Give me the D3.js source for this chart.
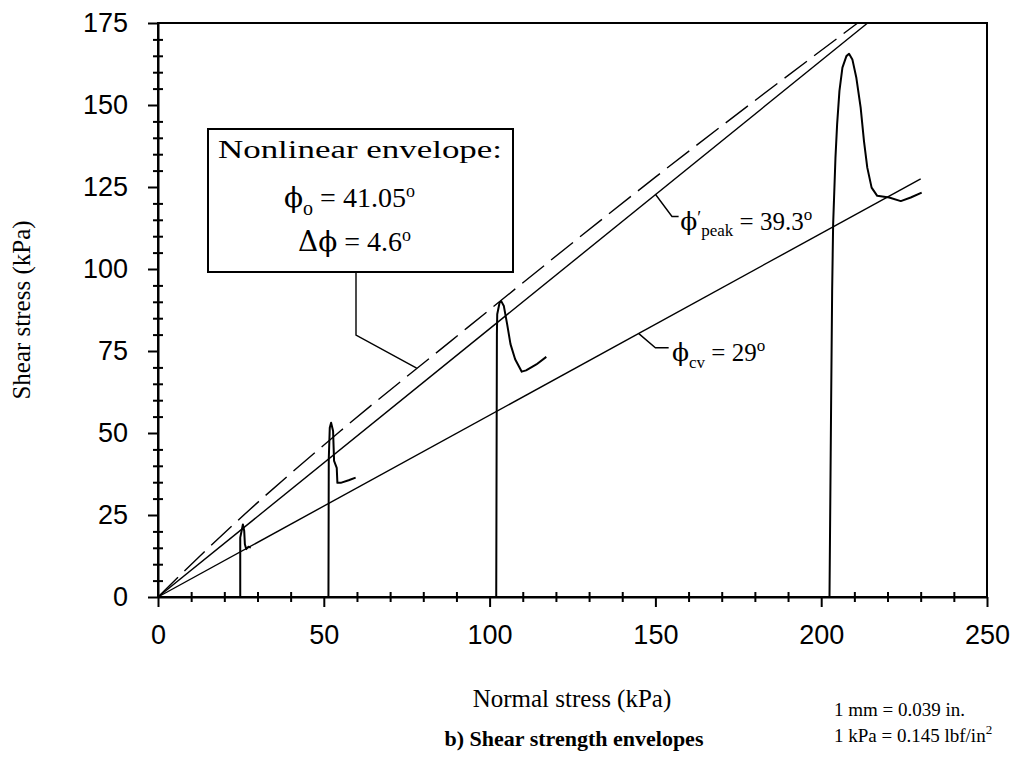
<!DOCTYPE html>
<html>
<head>
<meta charset="utf-8">
<script src="https://cdn.jsdelivr.net/npm/d3@7"></script>
<style>
	body { margin: 0; background: #fff; }
	svg text { fill: #000; }
	.tick-label { font-family: 'Liberation Sans Narrow', 'Arial Narrow', 'Liberation Sans', sans-serif; font-size: 27px; }
	.serif { font-family: 'Liberation Serif', 'Times New Roman', serif; }
	.sym { font-family: 'DejaVu Serif', serif; }
</style>
</head>
<body>
<div id="chart"></div>
<script>
// axis ticks
const xMajor = [0, 50, 100, 150, 200, 250];
const xMinor = [10, 20, 30, 40, 60, 70, 80, 90, 110, 120, 130, 140, 160, 170, 180, 190, 210, 220, 230, 240];
const yMajor = [0, 25, 50, 75, 100, 125, 150, 175];
const yMinor = [5, 10, 15, 20, 30, 35, 40, 45, 55, 60, 65, 70, 80, 85, 90, 95, 105, 110, 115, 120, 130, 135, 140, 145, 155, 160, 165, 170];

// envelopes [normal stress, shear stress] in kPa
const peakLine = [[0, 0], [214, 175]];
const cvLine = [[0, 0], [230, 127.5]];
const nonlinearEnvelope = [[0, 0], [10, 9.9], [23.3, 22.6], [55, 50.6], [88.4, 78.1], [150, 128], [211, 175]];

// direct shear stress paths
const path25 = [[24.8, 0], [24.8, 18.1], [25.3, 20.6], [25.6, 22.1], [26.0, 20.1], [26.2, 16.1], [26.6, 14.6], [27.3, 15.3], [28.0, 15.1]];
const path50 = [[51.4, 0], [51.5, 42], [51.8, 51.6], [52.2, 53.1], [52.8, 50.6], [53.1, 41.5], [53.9, 39.4], [54.1, 34.8], [55.1, 34.8], [57.5, 35.6], [59.6, 36.4]];
const path100 = [[102, 0], [102.2, 80], [102.3, 86.2], [103.0, 89.7], [103.5, 90.2], [104.3, 88.7], [105.3, 83.1], [106.3, 77.1], [107.7, 72.5], [109.7, 68.7], [111.0, 69.1], [114.1, 70.9], [117.1, 73.2]];
const path200 = [[202.5, 0], [203.0, 60], [203.3, 93.3], [203.6, 113.6], [204.3, 133.9], [204.8, 144.1], [205.5, 154.3], [206.4, 161.4], [207.6, 164.9], [208.4, 165.6], [209.4, 163.9], [210.6, 158.3], [211.9, 149.2], [212.9, 139.0], [213.9, 130.9], [215.2, 124.8], [216.9, 122.3], [220.5, 121.8], [224.0, 120.7], [227.0, 121.8], [230.3, 123.3]];

const W = 1021, H = 757;
const svg = d3.select('#chart').append('svg')
	.attr('width', W)
	.attr('height', H);

const x = d3.scaleLinear().domain([0, 250]).range([158, 987]);
const y = d3.scaleLinear().domain([0, 175]).range([597, 23]);

const line = d3.line().x(d => x(d[0])).y(d => y(d[1]));

// frame
svg.append('rect')
	.attr('x', x(0)).attr('y', y(175))
	.attr('width', x(250) - x(0)).attr('height', y(0) - y(175))
	.attr('fill', 'none').attr('stroke', '#000').attr('stroke-width', 2);

// x axis
const gx = svg.append('g').attr('transform', `translate(0,${y(0)})`)
	.call(d3.axisBottom(x).tickValues(xMajor).tickSize(10).tickSizeOuter(0).tickPadding(18));
gx.select('.domain').attr('stroke-width', 2);
gx.selectAll('.tick line').attr('stroke-width', 2);
gx.selectAll('.tick text').attr('class', 'tick-label').attr('font-size', null).attr('font-family', null);

const gxm = svg.append('g').attr('transform', `translate(0,${y(0)})`)
	.call(d3.axisBottom(x).tickValues(xMinor).tickSize(5).tickFormat(''));
gxm.select('.domain').remove();
gxm.selectAll('.tick line').attr('y1', -5).attr('y2', 5).attr('stroke-width', 2);

// y axis
const gy = svg.append('g').attr('transform', `translate(${x(0)},0)`)
	.call(d3.axisLeft(y).tickValues(yMajor).tickSize(10).tickSizeOuter(0).tickPadding(20));
gy.select('.domain').attr('stroke-width', 2);
gy.selectAll('.tick line').attr('stroke-width', 2);
gy.selectAll('.tick text').attr('class', 'tick-label').attr('font-size', null).attr('font-family', null);

const gym = svg.append('g').attr('transform', `translate(${x(0)},0)`)
	.call(d3.axisLeft(y).tickValues(yMinor).tickSize(5).tickFormat(''));
gym.select('.domain').remove();
gym.selectAll('.tick line').attr('x1', 5).attr('x2', -5).attr('stroke-width', 2);

// envelopes
svg.append('path').datum(peakLine).attr('d', line)
	.attr('fill', 'none').attr('stroke', '#000').attr('stroke-width', 1.4);
svg.append('path').datum(cvLine).attr('d', line)
	.attr('fill', 'none').attr('stroke', '#000').attr('stroke-width', 1.4);
svg.append('path').datum(nonlinearEnvelope).attr('d', line.curve(d3.curveMonotoneX))
	.attr('fill', 'none').attr('stroke', '#000').attr('stroke-width', 1.4)
	.attr('stroke-dasharray', '28,9');
line.curve(d3.curveLinear);

// stress paths
[path25, path50, path100, path200].forEach(p => {
	svg.append('path').datum(p).attr('d', line)
		.attr('fill', 'none').attr('stroke', '#000').attr('stroke-width', 2)
		.attr('stroke-linejoin', 'round');
});

// nonlinear envelope box
svg.append('rect')
	.attr('x', 208).attr('y', 129).attr('width', 305).attr('height', 143)
	.attr('fill', '#fff').attr('stroke', '#000').attr('stroke-width', 2);

svg.append('text').attr('class', 'serif')
	.attr('x', 218).attr('y', 158).attr('font-size', 25)
	.attr('textLength', 284).attr('lengthAdjust', 'spacingAndGlyphs')
	.text('Nonlinear envelope:');

const t1 = svg.append('text').attr('class', 'serif').attr('x', 284).attr('y', 207).attr('font-size', 28);
t1.append('tspan').attr('class', 'sym').text('\u03D5');
t1.append('tspan').attr('dy', 8).attr('font-size', 20).text('o');
t1.append('tspan').attr('dy', -8).text(' = 41.05');
t1.append('tspan').attr('dy', -10).attr('font-size', 18).text('o');

const t2 = svg.append('text').attr('class', 'serif').attr('x', 298).attr('y', 251).attr('font-size', 28);
t2.append('tspan').attr('class', 'sym').text('\u0394\u03D5');
t2.append('tspan').text(' = 4.6');
t2.append('tspan').attr('dy', -10).attr('font-size', 18).text('o');

// box leader
svg.append('path')
	.attr('d', `M356,272 V335 L${x(78)},${y(69.8)}`)
	.attr('fill', 'none').attr('stroke', '#000').attr('stroke-width', 1.4);

// phi' peak label
svg.append('path')
	.attr('d', `M${x(150)},${y(122.8)} L${x(155)},${y(116)} H${x(157)}`)
	.attr('fill', 'none').attr('stroke', '#000').attr('stroke-width', 1.4);
const t3 = svg.append('text').attr('class', 'serif').attr('x', x(157.5)).attr('y', y(112)).attr('font-size', 25);
t3.append('tspan').attr('class', 'sym').text('\u03D5');
t3.append('tspan').attr('dy', -6).attr('font-size', 18).text('\u2032');
t3.append('tspan').attr('dy', 12).attr('font-size', 17).text('peak');
t3.append('tspan').attr('dy', -6).text(' = 39.3');
t3.append('tspan').attr('dy', -10).attr('font-size', 17).text('o');

// phi cv label
svg.append('path')
	.attr('d', `M${x(145)},${y(80.3)} L${x(150)},${y(76)} H${x(154)}`)
	.attr('fill', 'none').attr('stroke', '#000').attr('stroke-width', 1.4);
const t4 = svg.append('text').attr('class', 'serif').attr('x', x(155)).attr('y', y(72)).attr('font-size', 25);
t4.append('tspan').attr('class', 'sym').text('\u03D5');
t4.append('tspan').attr('dy', 7).attr('font-size', 17).text('cv');
t4.append('tspan').attr('dy', -7).text(' = 29');
t4.append('tspan').attr('dy', -10).attr('font-size', 17).text('o');

// axis titles
svg.append('text').attr('class', 'serif')
	.attr('transform', `translate(30,${(y(0) + y(175)) / 2}) rotate(-90)`)
	.attr('text-anchor', 'middle').attr('font-size', 25)
	.text('Shear stress (kPa)');

svg.append('text').attr('class', 'serif')
	.attr('x', 572).attr('y', 707).attr('text-anchor', 'middle').attr('font-size', 25)
	.text('Normal stress (kPa)');

svg.append('text').attr('class', 'serif')
	.attr('x', 574).attr('y', 746).attr('text-anchor', 'middle').attr('font-size', 22)
	.attr('font-weight', 'bold')
	.text('b) Shear strength envelopes');

// unit note
svg.append('text').attr('class', 'serif')
	.attr('x', 834).attr('y', 716).attr('font-size', 19)
	.text('1 mm = 0.039 in.');
const n2 = svg.append('text').attr('class', 'serif')
	.attr('x', 834).attr('y', 742).attr('font-size', 19);
n2.append('tspan').text('1 kPa = 0.145 lbf/in');
n2.append('tspan').attr('dy', -8).attr('font-size', 13).text('2');
</script>
</body>
</html>
